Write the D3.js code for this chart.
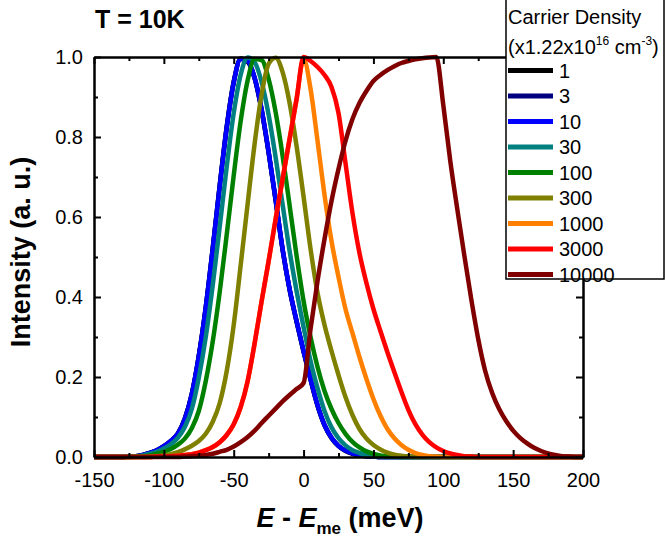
<!DOCTYPE html>
<html>
<head>
<meta charset="utf-8">
<script src="https://cdn.jsdelivr.net/npm/d3@7"></script>
<style>
  body { margin: 0; background: #fff; }
  svg { display: block; font-family: "Liberation Sans", Arial, sans-serif; }
</style>
</head>
<body>
<script>
// energy grid, meV (E - E_me)
const energy = [
  -150, -145, -140, -135, -130, -125, -120, -115, -110, -105,
  -100, -95, -90, -85, -80, -75, -70, -65, -60, -55,
  -50, -45, -40, -35, -30, -25, -20, -15, -10, -5,
  0, 5, 10, 15, 20, 25, 30, 35, 40, 45,
  50, 55, 60, 65, 70, 75, 80, 85, 90, 95,
  100, 105, 110, 115, 120, 125, 130, 135, 140, 145,
  150, 155, 160, 165, 170, 175, 180, 185, 190, 195,
  200
];

// carrier density labels (x1.22x10^16 cm^-3)
const densities = ["1", "3", "10", "30", "100", "300", "1000", "3000", "10000"];
const colors = ["#000000", "#000080", "#0000ff", "#008080", "#008000", "#808000", "#ff8000", "#ff0000", "#800000"];

// normalised intensity, one value per energy point
const s1 = [
  0, 0, 0, 0, 0, 0.001, 0.002, 0.005, 0.01, 0.017,
  0.027, 0.04, 0.059, 0.096, 0.158, 0.253, 0.375, 0.523, 0.68, 0.826,
  0.938, 0.996, 0.988, 0.946, 0.866, 0.76, 0.641, 0.518, 0.418, 0.338,
  0.263, 0.193, 0.128, 0.079, 0.047, 0.027, 0.015, 0.008, 0.004, 0.002,
  0.001, 0, 0, 0, 0, 0, 0, 0, 0, 0,
  0, 0, 0, 0, 0, 0, 0, 0, 0, 0,
  0, 0, 0, 0, 0, 0, 0, 0, 0, 0,
  0
];
const s3 = [
  0, 0, 0, 0, 0, 0.001, 0.002, 0.005, 0.01, 0.017,
  0.027, 0.04, 0.058, 0.095, 0.157, 0.252, 0.374, 0.521, 0.678, 0.824,
  0.937, 0.995, 0.989, 0.947, 0.868, 0.762, 0.643, 0.519, 0.419, 0.339,
  0.264, 0.194, 0.129, 0.08, 0.048, 0.028, 0.016, 0.009, 0.005, 0.002,
  0.001, 0, 0, 0, 0, 0, 0, 0, 0, 0,
  0, 0, 0, 0, 0, 0, 0, 0, 0, 0,
  0, 0, 0, 0, 0, 0, 0, 0, 0, 0,
  0
];
const s10 = [
  0, 0, 0, 0, 0, 0.001, 0.002, 0.005, 0.01, 0.017,
  0.027, 0.04, 0.058, 0.095, 0.157, 0.251, 0.373, 0.52, 0.677, 0.823,
  0.936, 0.995, 0.99, 0.948, 0.869, 0.763, 0.644, 0.52, 0.42, 0.34,
  0.265, 0.195, 0.13, 0.08, 0.048, 0.028, 0.016, 0.009, 0.005, 0.002,
  0.001, 0, 0, 0, 0, 0, 0, 0, 0, 0,
  0, 0, 0, 0, 0, 0, 0, 0, 0, 0,
  0, 0, 0, 0, 0, 0, 0, 0, 0, 0,
  0
];
const s30 = [
  0, 0, 0, 0, 0, 0.001, 0.002, 0.004, 0.008, 0.013,
  0.021, 0.032, 0.048, 0.075, 0.12, 0.198, 0.30, 0.43, 0.576, 0.726,
  0.86, 0.956, 0.999, 0.987, 0.937, 0.855, 0.749, 0.631, 0.515, 0.415,
  0.325, 0.24, 0.172, 0.115, 0.074, 0.047, 0.029, 0.017, 0.01, 0.005,
  0.002, 0.001, 0, 0, 0, 0, 0, 0, 0, 0,
  0, 0, 0, 0, 0, 0, 0, 0, 0, 0,
  0, 0, 0, 0, 0, 0, 0, 0, 0, 0,
  0
];
const s100 = [
  0, 0, 0, 0, 0, 0, 0.001, 0.002, 0.004, 0.008,
  0.013, 0.02, 0.031, 0.046, 0.072, 0.115, 0.19, 0.289, 0.413, 0.556,
  0.704, 0.84, 0.942, 0.995, 0.992, 0.945, 0.862, 0.753, 0.629, 0.503,
  0.39, 0.30, 0.225, 0.165, 0.12, 0.085, 0.058, 0.038, 0.024, 0.014,
  0.008, 0.004, 0.002, 0.001, 0, 0, 0, 0, 0, 0,
  0, 0, 0, 0, 0, 0, 0, 0, 0, 0,
  0, 0, 0, 0, 0, 0, 0, 0, 0, 0,
  0
];
const s300 = [
  0, 0, 0, 0, 0, 0, 0, 0, 0.001, 0.002,
  0.004, 0.007, 0.012, 0.019, 0.028, 0.04, 0.058, 0.088, 0.135, 0.215,
  0.33, 0.48, 0.634, 0.784, 0.907, 0.983, 0.998, 0.962, 0.885, 0.777,
  0.651, 0.52, 0.41, 0.33, 0.265, 0.205, 0.15, 0.105, 0.07, 0.046,
  0.03, 0.019, 0.011, 0.006, 0.003, 0.001, 0, 0, 0, 0,
  0, 0, 0, 0, 0, 0, 0, 0, 0, 0,
  0, 0, 0, 0, 0, 0, 0, 0, 0, 0,
  0
];
const s1000 = [
  0, 0, 0, 0, 0, 0, 0, 0, 0, 0.001,
  0.001, 0.002, 0.003, 0.005, 0.007, 0.011, 0.017, 0.025, 0.037, 0.055,
  0.082, 0.125, 0.19, 0.285, 0.39, 0.49, 0.595, 0.695, 0.795, 0.895,
  0.995, 0.92, 0.79, 0.655, 0.54, 0.45, 0.37, 0.31, 0.25, 0.195,
  0.145, 0.103, 0.07, 0.047, 0.03, 0.018, 0.01, 0.005, 0.002, 0.001,
  0, 0, 0, 0, 0, 0, 0, 0, 0, 0,
  0, 0, 0, 0, 0, 0, 0, 0, 0, 0,
  0
];
const s3000 = [
  0, 0, 0, 0, 0, 0, 0, 0, 0, 0.001,
  0.001, 0.002, 0.003, 0.005, 0.007, 0.011, 0.017, 0.025, 0.037, 0.055,
  0.082, 0.125, 0.19, 0.285, 0.39, 0.49, 0.595, 0.695, 0.795, 0.895,
  1.0, 0.99, 0.975, 0.955, 0.925, 0.86, 0.735, 0.61, 0.51, 0.435,
  0.37, 0.315, 0.262, 0.212, 0.163, 0.118, 0.082, 0.056, 0.037, 0.024,
  0.015, 0.009, 0.005, 0.002, 0.001, 0, 0, 0, 0, 0,
  0, 0, 0, 0, 0, 0, 0, 0, 0, 0,
  0
];
const s10000 = [
  0, 0, 0, 0, 0, 0, 0, 0, 0, 0,
  0, 0, 0, 0.001, 0.002, 0.003, 0.005, 0.008, 0.013, 0.018,
  0.026, 0.037, 0.05, 0.066, 0.085, 0.103, 0.121, 0.139, 0.155, 0.17,
  0.185, 0.32, 0.44, 0.545, 0.64, 0.72, 0.79, 0.845, 0.885, 0.915,
  0.94, 0.955, 0.967, 0.977, 0.985, 0.99, 0.994, 0.997, 0.999, 1.0,
  0.88, 0.74, 0.62, 0.505, 0.395, 0.295, 0.215, 0.16, 0.12, 0.09,
  0.066, 0.048, 0.034, 0.023, 0.015, 0.009, 0.005, 0.002, 0.001, 0,
  0
];
const seriesValues = [s1, s3, s10, s30, s100, s300, s1000, s3000, s10000];

const xTicks = [-150, -100, -50, 0, 50, 100, 150, 200];
const xMinor = [-125, -75, -25, 25, 75, 125, 175];
const yTicks = [0, 0.2, 0.4, 0.6, 0.8, 1.0];
const yMinor = [0.1, 0.3, 0.5, 0.7, 0.9];

const width = 665, height = 538;
const plot = { left: 94, right: 583, top: 57, bottom: 457 };

const svg = d3.select("body").append("svg")
  .attr("width", width)
  .attr("height", height);

const x = d3.scaleLinear().domain([-150, 200]).range([plot.left, plot.right]);
const y = d3.scaleLinear().domain([0, 1]).range([plot.bottom, plot.top]);

// curves
const line = d3.line()
  .x(d => x(d[0]))
  .y(d => y(d[1]))
  .curve(d3.curveMonotoneX);

seriesValues.forEach(function (vals, i) {
  svg.append("path")
    .datum(energy.map((e, j) => [e, vals[j]]))
    .attr("fill", "none")
    .attr("stroke", colors[i])
    .attr("stroke-width", 4.5)
    .attr("stroke-linejoin", "round")
    .attr("d", line);
});

// axes, ticks pointing inward on all four sides
function styleAxis(g) {
  g.selectAll("path.domain").attr("stroke", "#000").attr("stroke-width", 2);
  g.selectAll(".tick line").attr("stroke", "#000").attr("stroke-width", 2);
  g.selectAll(".tick text").attr("fill", "#000")
    .style("font-size", "20px")
    .style("font-family", "'Liberation Sans', Arial, sans-serif");
}

svg.append("g")
  .attr("transform", "translate(0," + plot.bottom + ")")
  .call(d3.axisBottom(x).tickValues(xTicks).tickSize(-7).tickSizeOuter(0).tickPadding(16)
    .tickFormat(d => String(d)))
  .call(styleAxis);
svg.append("g")
  .attr("transform", "translate(0," + plot.bottom + ")")
  .call(d3.axisBottom(x).tickValues(xMinor).tickSize(-4).tickSizeOuter(0).tickFormat(""))
  .call(styleAxis);

svg.append("g")
  .attr("transform", "translate(" + plot.left + ",0)")
  .call(d3.axisLeft(y).tickValues(yTicks).tickSize(-7).tickSizeOuter(0).tickPadding(11)
    .tickFormat(d => d.toFixed(1)))
  .call(styleAxis);
svg.append("g")
  .attr("transform", "translate(" + plot.left + ",0)")
  .call(d3.axisLeft(y).tickValues(yMinor).tickSize(-4).tickSizeOuter(0).tickFormat(""))
  .call(styleAxis);

svg.append("g")
  .attr("transform", "translate(0," + plot.top + ")")
  .call(d3.axisTop(x).tickValues(xTicks).tickSize(-7).tickSizeOuter(0).tickFormat(""))
  .call(styleAxis);
svg.append("g")
  .attr("transform", "translate(0," + plot.top + ")")
  .call(d3.axisTop(x).tickValues(xMinor).tickSize(-4).tickSizeOuter(0).tickFormat(""))
  .call(styleAxis);

svg.append("g")
  .attr("transform", "translate(" + plot.right + ",0)")
  .call(d3.axisRight(y).tickValues(yTicks).tickSize(-7).tickSizeOuter(0).tickFormat(""))
  .call(styleAxis);
svg.append("g")
  .attr("transform", "translate(" + plot.right + ",0)")
  .call(d3.axisRight(y).tickValues(yMinor).tickSize(-4).tickSizeOuter(0).tickFormat(""))
  .call(styleAxis);

// title
svg.append("text")
  .attr("x", 95)
  .attr("y", 28)
  .style("font-size", "25px")
  .style("font-weight", "bold")
  .text("T = 10K");

// axis labels
const xLabel = svg.append("text")
  .attr("x", 340)
  .attr("y", 527)
  .attr("text-anchor", "middle")
  .style("font-size", "27px")
  .style("font-weight", "bold");
xLabel.append("tspan").style("font-style", "italic").text("E");
xLabel.append("tspan").text(" - ");
xLabel.append("tspan").style("font-style", "italic").text("E");
xLabel.append("tspan").attr("dy", 7).style("font-size", "17px").text("me");
xLabel.append("tspan").attr("dy", -7).text(" (meV)");

svg.append("text")
  .attr("transform", "translate(30,252) rotate(-90)")
  .attr("text-anchor", "middle")
  .style("font-size", "27px")
  .style("font-weight", "bold")
  .text("Intensity (a. u.)");

// legend
const legend = svg.append("g");
legend.append("rect")
  .attr("x", 506)
  .attr("y", -1)
  .attr("width", 158)
  .attr("height", 280)
  .attr("fill", "#fff")
  .attr("stroke", "#000")
  .attr("stroke-width", 1.5);

legend.append("text")
  .attr("x", 508)
  .attr("y", 24)
  .style("font-size", "20px")
  .text("Carrier Density");

const unit = legend.append("text")
  .attr("x", 508)
  .attr("y", 54)
  .style("font-size", "20px");
unit.append("tspan").text("(x1.22x10");
unit.append("tspan").attr("dy", -9).style("font-size", "12px").text("16");
unit.append("tspan").attr("dy", 9).text(" cm");
unit.append("tspan").attr("dy", -9).style("font-size", "12px").text("-3");
unit.append("tspan").attr("dy", 9).text(")");

densities.forEach(function (d, i) {
  const ly = 70.5 + i * 25.5;
  legend.append("line")
    .attr("x1", 508)
    .attr("x2", 553)
    .attr("y1", ly)
    .attr("y2", ly)
    .attr("stroke", colors[i])
    .attr("stroke-width", 5);
  legend.append("text")
    .attr("x", 559)
    .attr("y", ly + 7)
    .style("font-size", "20px")
    .text(d);
});
</script>
</body>
</html>
